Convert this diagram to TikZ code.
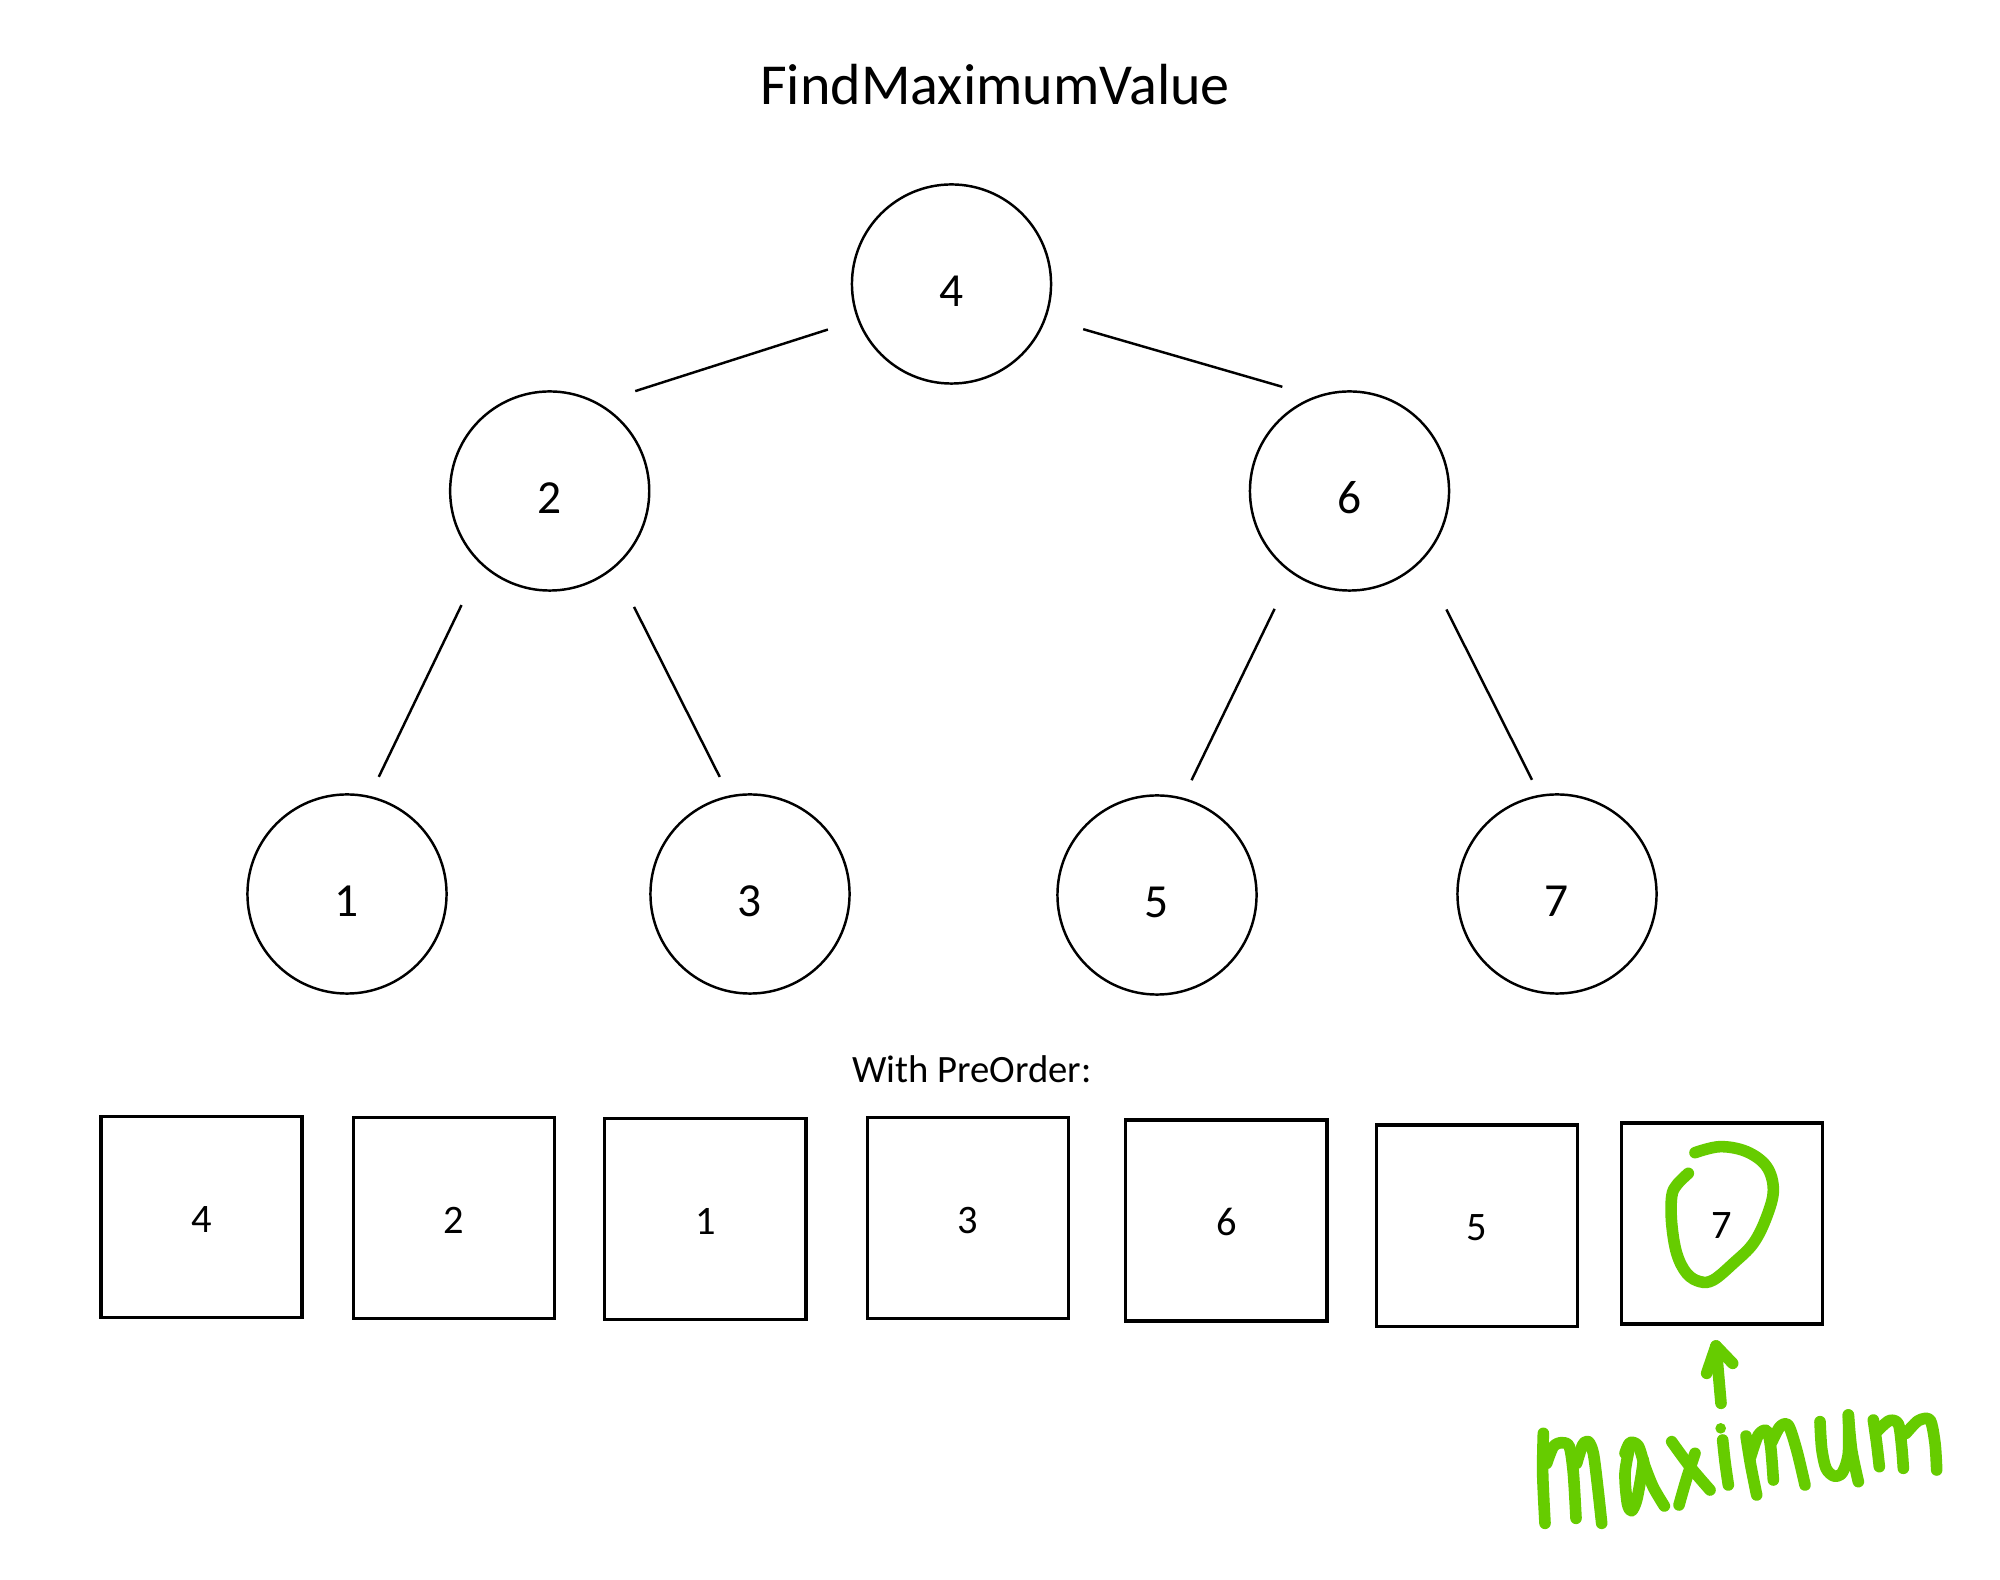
\documentclass[tikz,border=0pt]{standalone}
\usepackage{fontspec}
\setmainfont{Carlito}
\definecolor{hand}{HTML}{66CC00}
\tikzset{
  tnode/.style={circle, draw=black, line width=0.7pt, minimum size=1.99cm, inner sep=0pt, text height=0.44cm, text depth=0pt, font=\fontsize{13.5}{16}\selectfont},
  abox/.style={rectangle, draw=black, line width=0.9pt, minimum size=2.01cm, inner sep=0pt, text height=0.3cm, text depth=0pt, font=\fontsize{11.5}{14}\selectfont},
  tedge/.style={draw=black, line width=0.7pt},
  ink/.style={draw=hand, line width=3.3pt, line cap=round, line join=round},
}
\begin{document}
\begin{tikzpicture}[x=0.01cm, y=-0.01cm]
\useasboundingbox[fill=white] (0,0) rectangle (2000,1580);
\node[font=\fontsize{16.5}{20}\selectfont] (title) at (995,85) {FindMaximumValue};
\node[tnode] (r) at (951.5,284) {4};
\node[tnode] (n2) at (549.7,491) {2};
\node[tnode] (n6) at (1349.5,491) {6};
\node[tnode] (n1) at (347,894) {1};
\node[tnode] (n3) at (750,894) {3};
\node[tnode] (n5) at (1157,895) {5};
\node[tnode] (n7) at (1557,894) {7};
\draw[tedge, shorten <=0.31cm, shorten >=0.385cm] (r.201.5) -- (n2.61.4);
\draw[tedge, shorten <=0.385cm, shorten >=0.34cm] (r.340) -- (n6.110.4);
\draw[tedge, shorten <=0.448cm, shorten >=0.21cm] (n2.227.8) -- (n1.77.7);
\draw[tedge, shorten <=0.433cm, shorten >=0.207cm] (n2.310.9) -- (n3.102.6);
\draw[tedge, shorten <=0.392cm, shorten >=0.194cm] (n6.235.4) -- (n5.75.8);
\draw[tedge, shorten <=0.542cm, shorten >=0.167cm] (n6.316.6) -- (n7.100.2);
\node[font=\fontsize{11}{13}\selectfont] (pre) at (972,1069) {With PreOrder:};
\node[abox] (b1) at (201.5,1217) {4};
\node[abox] (b2) at (454,1218) {2};
\node[abox] (b3) at (705.4,1219.3) {1};
\node[abox] (b4) at (968,1218) {3};
\node[abox] (b5) at (1226.4,1220.5) {6};
\node[abox] (b6) at (1477,1225.6) {5};
\node[abox] (b7) at (1722,1223.5) {7};
% green circle and arrow
\begin{scope}[shift={(1520,1110)}, scale=1/3]
\draw[ink] plot[smooth, tension=0.6] coordinates {(525,128) (600,110) (680,125) (740,170) (760,240) (740,320) (700,400) (640,460) (580,510) (540,515) (500,490) (470,430) (455,340) (455,260) (470,225) (505,190)};
\coordinate (tip) at (588,708);
\coordinate (tail) at (603,880);
\draw[ink] (tail) -- (tip);
\draw[ink] (560,790) -- (tip) -- (638,760);
\end{scope}
% handwritten word
\begin{scope}[shift={(1530,1400)}, scale=1/3]
% m
\draw[ink] plot[smooth] coordinates {(40,100) (38,220) (45,370)};
\draw[ink] plot[smooth] coordinates {(50,190) (70,140) (95,128) (118,140) (130,220) (138,355)};
\draw[ink] plot[smooth] coordinates {(140,190) (158,135) (175,125) (190,160) (203,260) (215,370)};
% a
\draw[ink] plot[smooth] coordinates {(285,160) (300,128) (325,138) (345,200) (370,262) (403,318)};
\draw[ink] plot[smooth] coordinates {(300,135) (285,220) (292,310) (305,332) (320,300) (335,220) (340,180)};
% x
\draw[ink] plot[smooth] coordinates {(425,125) (480,200) (540,270)};
\draw[ink] plot[smooth] coordinates {(495,160) (470,235) (447,315)};
% i
\fill[hand] (572,85) circle (16);
\draw[ink] plot[smooth] coordinates {(578,120) (585,185) (595,255)};
% m
\draw[ink] plot[smooth] coordinates {(648,108) (662,195) (680,285)};
\draw[ink] plot[smooth] coordinates {(662,170) (685,105) (710,92) (722,140) (730,240)};
\draw[ink] plot[smooth] coordinates {(726,125) (750,80) (775,76) (800,150) (825,255)};
% u
\draw[ink] plot[smooth] coordinates {(870,65) (875,145) (888,205) (912,228) (937,218) (955,160) (955,45)};
\draw[ink] plot[smooth] coordinates {(955,45) (965,150) (985,245)};
% m
\draw[ink] plot[smooth] coordinates {(1030,60) (1040,130) (1048,200)};
\draw[ink] plot[smooth] coordinates {(1040,95) (1078,62) (1105,72) (1115,140) (1120,205)};
\draw[ink] plot[smooth] coordinates {(1128,100) (1165,62) (1200,60) (1215,130) (1220,210)};
\end{scope}
\end{tikzpicture}
\end{document}
